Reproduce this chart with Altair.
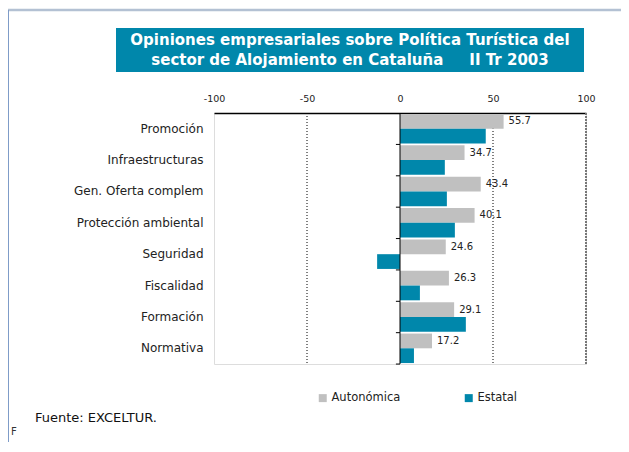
import altair as alt
import pandas as pd

categorias = ["Promoción", "Infraestructuras", "Gen. Oferta complem", "Protección ambiental",
              "Seguridad", "Fiscalidad", "Formación", "Normativa"]
series = ["Autonómica", "Estatal"]
autonomica = [55.7, 34.7, 43.4, 40.1, 24.6, 26.3, 29.1, 17.2]
estatal = [46.1, 24.1, 25.2, 29.5, -12.3, 10.7, 35.4, 7.5]
ticks_x = [-100, -50, 0, 50, 100]
grid_x = [-50, 50]
titulo = ["Opiniones empresariales sobre Política Turística del",
          "sector de Alojamiento en Cataluña\u00a0\u00a0\u00a0\u00a0\u00a0II Tr 2003"]
fuente = "Fuente: EXCELTUR."

GRIS = "#C0C0C0"
AZUL = "#0087AB"
FONT = "DejaVu Sans"

rows = []
for c, a, e in zip(categorias, autonomica, estatal):
    rows.append({"cat": c, "serie": series[0], "valor": a})
    rows.append({"cat": c, "serie": series[1], "valor": e})
df = pd.DataFrame(rows)

xscale = alt.Scale(domain=[-100, 100], nice=False, zero=False)
yscale = alt.Scale(domain=categorias, paddingInner=0.06, paddingOuter=0.03)
yoff = alt.YOffset("serie:N", scale=alt.Scale(domain=series, paddingInner=0, paddingOuter=0))
xaxis = alt.Axis(orient="top", values=ticks_x, title=None, grid=False, ticks=False,
                 domainColor="#000", domainWidth=1.5, labelPadding=10, labelFlush=False,
                 labelExpr="'' + datum.value",
                 labelFontSize=9.5, labelColor="#222", labelFont=FONT)
yaxis = alt.Axis(title=None, domain=False, ticks=False, labelPadding=11,
                 labelFontSize=12, labelColor="#222", labelFont=FONT)

bars = alt.Chart(df).mark_bar().encode(
    x=alt.X("valor:Q", scale=xscale, axis=xaxis),
    y=alt.Y("cat:N", scale=yscale, axis=yaxis),
    yOffset=yoff,
    color=alt.Color("serie:N", scale=alt.Scale(domain=series, range=[GRIS, AZUL]),
                    legend=alt.Legend(title=None, orient="none", legendX=103, legendY=279,
                                      direction="horizontal", symbolType="square",
                                      symbolSize=64, symbolStrokeWidth=0,
                                      labelFontSize=11.5, labelColor="#222", labelFont=FONT,
                                      columnPadding=62, labelOffset=3)),
)

labels = alt.Chart(df).transform_filter(alt.datum.serie == series[0]).mark_text(
    align="left", baseline="middle", dx=5, fontSize=10, font=FONT, color="#222"
).encode(
    x=alt.X("valor:Q", scale=xscale, axis=xaxis),
    y=alt.Y("cat:N", scale=yscale, axis=yaxis),
    yOffset=yoff,
    text=alt.Text("valor:Q", format=".1f"),
)

grid = alt.Chart(pd.DataFrame({"g": grid_x})).mark_rule(
    color="#000", strokeWidth=1, strokeDash=[1, 2]
).encode(x=alt.X("g:Q", scale=xscale, axis=xaxis))

zero = alt.Chart(pd.DataFrame({"z": [0]})).mark_rule(color="#000", strokeWidth=1).encode(
    x=alt.X("z:Q", scale=xscale, axis=xaxis))

right = alt.Chart(pd.DataFrame({"r": [100]})).mark_rule(
    color="#777", strokeWidth=2, strokeDash=[2, 1]).encode(x=alt.X("r:Q", scale=xscale, axis=xaxis))

zticks = alt.Chart(pd.DataFrame({"cat": categorias})).mark_rule(color="#000", strokeWidth=1, yOffset=1).encode(
    y=alt.Y("cat:N", scale=yscale, axis=yaxis, bandPosition=1),
    x=alt.datum(-2.2),
    x2=alt.datum(0),
)

one = pd.DataFrame({"k": [0]})
title_box = alt.Chart(one).mark_rect(color=AZUL).encode(
    x=alt.value(-98), x2=alt.value(370), y=alt.value(-85), y2=alt.value(-41))
t1 = alt.Chart(one).mark_text(text=titulo[0], color="white", fontWeight="bold", fontSize=15,
                              font=FONT, align="center", baseline="middle").encode(
    x=alt.value(136), y=alt.value(-73))
t2 = alt.Chart(one).mark_text(text=titulo[1], color="white", fontWeight="bold", fontSize=15,
                              font=FONT, align="center", baseline="middle").encode(
    x=alt.value(136), y=alt.value(-53))

frame_top = alt.Chart(one).mark_rule(color="#B3C1D3", strokeWidth=2.5).encode(
    x=alt.value(-206), x2=alt.value(407), y=alt.value(-103))
frame_left = alt.Chart(one).mark_rule(color="#7F9CC8", strokeWidth=1).encode(
    x=alt.value(-205.5), y=alt.value(-103), y2=alt.value(331))

src = alt.Chart(one).mark_text(text=fuente, align="left", baseline="middle", fontSize=13,
                               font=FONT, color="#111").encode(x=alt.value(-179), y=alt.value(305))
f_txt = alt.Chart(one).mark_text(text="F", align="left", baseline="middle", fontSize=10,
                                 font=FONT, color="#333").encode(x=alt.value(-203), y=alt.value(319))

chart = alt.layer(
    frame_top, frame_left, title_box, t1, t2, grid, right, bars, zero, zticks, labels, src, f_txt
).properties(
    width=372, height=251,
    autosize=alt.AutoSizeParams(type="none"),
    padding={"left": 206, "top": 105, "right": 35, "bottom": 78},
).configure_view(stroke="#8f8f8f", strokeWidth=1.5).configure(background="white")

chart.save("out.html", embed_options={"renderer": "svg", "actions": False})
